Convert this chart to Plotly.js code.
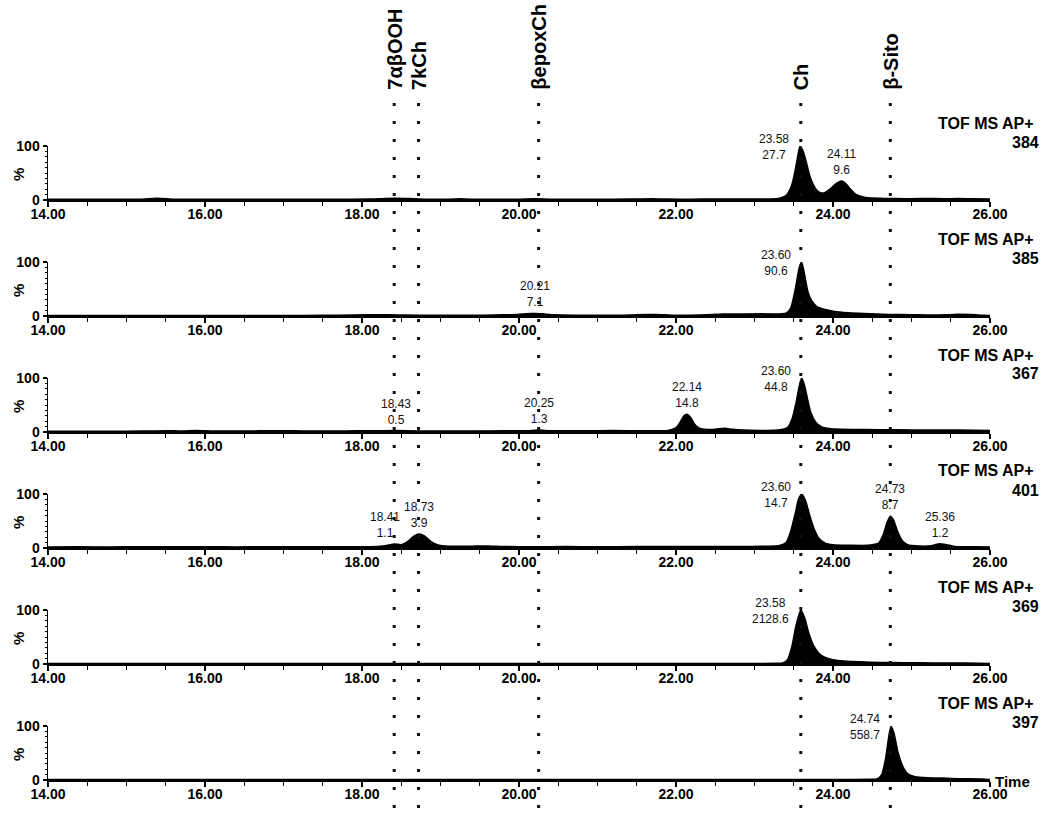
<!DOCTYPE html>
<html>
<head>
<meta charset="utf-8">
<script src="https://cdn.plot.ly/plotly-3.0.1.min.js"></script>
<style>html,body{margin:0;padding:0;background:#fff;}#chart{width:1050px;height:816px;}</style>
</head>
<body>
<div id="chart"></div>
<script>
// ---- data (time in min, relative intensity %) ----
const masses = ["384", "385", "367", "401", "369", "397"];

const trace384 = [[14.00,1.2],[14.30,1.3],[14.60,1.2],[14.90,1.4],[15.20,1.6],[15.35,3.0],[15.45,2.8],[15.60,1.6],[15.90,1.3],[16.20,1.4],[16.60,1.3],[17.00,1.4],[17.40,1.3],[17.80,1.6],[18.10,1.8],[18.30,3.0],[18.45,3.2],[18.60,2.6],[18.80,1.6],[19.10,1.5],[19.25,2.5],[19.40,1.6],[19.70,1.5],[20.00,1.6],[20.20,2.2],[20.40,1.6],[20.70,1.5],[21.00,1.6],[21.40,1.7],[21.70,2.5],[21.90,1.7],[22.20,1.6],[22.45,2.0],[22.70,1.7],[23.00,1.8],[23.20,2.0],[23.32,3.5],[23.40,8],[23.46,22],[23.50,42],[23.54,72],[23.58,100],[23.62,90],[23.66,70],[23.70,47],[23.75,28],[23.80,17],[23.85,13],[23.90,14],[23.96,20],[24.02,28],[24.07,33],[24.11,35],[24.16,31],[24.21,22],[24.27,13],[24.33,8],[24.40,5],[24.50,3.5],[24.65,3],[24.80,2.6],[25.00,2.5],[25.20,2.8],[25.40,2.5],[25.60,2.6],[25.80,2.4],[26.00,2.0]];

const trace385 = [[14.00,1.0],[14.50,1.0],[15.00,1.1],[15.50,1.0],[16.00,1.0],[16.50,1.1],[17.00,1.0],[17.50,1.2],[17.90,2.0],[18.20,2.2],[18.45,2.0],[18.70,1.3],[19.00,1.2],[19.40,1.3],[19.70,1.8],[19.90,2.5],[20.05,3.5],[20.15,4.5],[20.21,4.8],[20.30,4.0],[20.45,2.2],[20.70,1.5],[21.00,1.4],[21.30,1.5],[21.50,2.5],[21.75,2.6],[21.95,1.6],[22.30,1.8],[22.60,3.5],[22.90,3.8],[23.10,4.0],[23.30,3.8],[23.40,5],[23.46,14],[23.52,50],[23.57,90],[23.60,100],[23.64,75],[23.68,45],[23.73,28],[23.80,17],[23.90,12],[24.00,9],[24.20,6],[24.40,4.5],[24.70,3.0],[25.00,2.5],[25.30,2.0],[25.55,3.0],[25.75,2.6],[25.90,1.5],[26.00,1.0]];

const trace367 = [[14.00,1.5],[14.40,1.6],[14.80,1.5],[15.20,1.7],[15.50,2.5],[15.70,1.8],[15.90,2.6],[16.10,1.8],[16.50,1.7],[16.90,2.5],[17.10,2.4],[17.40,1.8],[17.80,2.0],[18.10,2.2],[18.43,2.6],[18.70,2.0],[19.00,1.9],[19.40,2.0],[19.80,2.1],[20.10,2.5],[20.25,3.5],[20.40,2.5],[20.80,2.2],[21.20,2.6],[21.60,2.4],[21.90,2.8],[22.00,8],[22.06,20],[22.10,30],[22.14,33],[22.19,26],[22.24,14],[22.30,7],[22.40,4.5],[22.50,5],[22.62,7],[22.72,5],[22.85,3.5],[23.10,3.0],[23.30,3.5],[23.42,8],[23.48,25],[23.53,55],[23.57,85],[23.60,100],[23.64,85],[23.68,58],[23.72,35],[23.78,18],[23.85,10],[23.95,6.5],[24.10,5],[24.40,4.5],[24.80,4],[25.20,3.5],[25.60,3.5],[26.00,3.0]];

const trace401 = [[14.00,2.0],[14.40,2.1],[14.80,2.0],[15.20,2.2],[15.60,2.1],[16.00,2.2],[16.40,2.0],[16.80,2.3],[17.20,2.2],[17.60,2.4],[18.00,2.5],[18.20,2.8],[18.33,5],[18.41,7.5],[18.50,6],[18.58,12],[18.66,22],[18.73,26],[18.80,22],[18.88,12],[18.98,5],[19.10,3.2],[19.40,3.4],[19.60,3.6],[19.80,2.6],[20.20,2.5],[20.60,2.6],[21.00,2.5],[21.50,2.6],[22.00,2.7],[22.30,3.0],[22.60,2.8],[23.00,3.0],[23.30,4],[23.40,10],[23.46,30],[23.52,65],[23.56,90],[23.60,100],[23.65,88],[23.70,62],[23.76,35],[23.82,18],[23.90,9],[24.00,6],[24.20,5],[24.45,5],[24.58,9],[24.64,25],[24.69,48],[24.73,59],[24.77,52],[24.82,32],[24.88,14],[24.95,6],[25.10,3.5],[25.25,4],[25.36,8],[25.45,6],[25.55,3],[25.80,2.5],[26.00,2.0]];

const trace369 = [[14.00,1.0],[15.00,1.0],[16.00,1.0],[17.00,1.0],[18.00,1.0],[19.00,1.0],[20.00,1.0],[21.00,1.0],[22.00,1.0],[23.00,1.1],[23.30,1.3],[23.36,2],[23.42,8],[23.48,35],[23.53,72],[23.59,100],[23.64,85],[23.69,58],[23.75,35],[23.82,20],[23.90,12],[24.00,8],[24.15,5.5],[24.35,4],[24.60,3],[24.90,2.5],[25.30,2.0],[25.70,1.8],[26.00,1.0]];

const trace397 = [[14.00,1.0],[15.00,1.0],[16.00,1.0],[17.00,1.0],[18.00,1.0],[19.00,1.0],[20.00,1.0],[21.00,1.0],[22.00,1.0],[23.00,1.0],[24.00,1.0],[24.50,1.2],[24.56,2],[24.62,10],[24.67,40],[24.71,80],[24.74,100],[24.78,85],[24.83,50],[24.89,25],[24.95,12],[25.05,6],[25.20,4],[25.40,3.5],[25.60,2.5],[25.90,2.0],[26.00,1.0]];

const traces = [trace384, trace385, trace367, trace401, trace369, trace397];

// peak labels: [retention time, area]
const labels384 = [["23.58","27.7"],["24.11","9.6"]];
const labels385 = [["20.21","7.1"],["23.60","90.6"]];
const labels367 = [["18.43","0.5"],["20.25","1.3"],["22.14","14.8"],["23.60","44.8"]];
const labels401 = [["18.41","1.1"],["18.73","3.9"],["23.60","14.7"],["24.73","8.7"],["25.36","1.2"]];
const labels369 = [["23.58","2128.6"]];
const labels397 = [["24.74","558.7"]];
const peakLabels = [labels384, labels385, labels367, labels401, labels369, labels397];

// marker compounds (dotted lines)
const compounds = ["7\u03b1\u03b2OOH", "7kCh", "\u03b2epoxCh", "Ch", "\u03b2-Sito"];
const compoundTimes = [18.41, 18.72, 20.25, 23.59, 24.73];

// ---- layout ----
const W = 1050, H = 816;
const FONT = "Liberation Sans, Arial, sans-serif";
const xDom = [48 / W, 990 / W];
const data = [];
const layout = {
  width: W, height: H,
  margin: {l: 0, r: 0, t: 0, b: 0},
  paper_bgcolor: "#fff", plot_bgcolor: "#fff",
  showlegend: false,
  font: {family: FONT, color: "#000"},
  annotations: [], shapes: []
};

function py(px) { return 1 - px / H; }

traces.forEach((pts, k) => {
  const sfx = k === 0 ? "" : String(k + 1);
  const bottom = 200 + 116 * k, top = bottom - 54;
  layout["xaxis" + sfx] = {
    domain: xDom, range: [14, 26], anchor: "y" + sfx,
    showline: true, linecolor: "#000", linewidth: 1.5,
    ticks: "outside", ticklen: 5, tickwidth: 1.2, tickcolor: "#000",
    tick0: 14, dtick: 2, tickformat: ".2f", ticklabelstandoff: -4,
    tickfont: {family: FONT, size: 14, weight: 700, color: "#000"},
    minor: {dtick: 0.5, ticks: "outside", ticklen: 4, tickwidth: 1, tickcolor: "#000", showgrid: false},
    showgrid: false, zeroline: false, fixedrange: true
  };
  layout["yaxis" + sfx] = {
    domain: [py(bottom), py(top)], range: [0, 100], anchor: "x" + sfx,
    showline: true, linecolor: "#000", linewidth: 1.5,
    ticks: "outside", ticklen: 4, tickwidth: 1.2, tickcolor: "#000",
    tick0: 0, dtick: 100,
    tickfont: {family: FONT, size: 14, weight: 700, color: "#000"},
    minor: {dtick: 10, ticks: "outside", ticklen: 2, tickwidth: 1, tickcolor: "#000", showgrid: false},
    showgrid: false, zeroline: false, fixedrange: true
  };
  data.push({
    type: "scatter", mode: "lines",
    x: pts.map(p => p[0]), y: pts.map(p => p[1]),
    xaxis: "x" + sfx, yaxis: "y" + sfx,
    line: {color: "#000", width: 1.5, shape: "spline", smoothing: 0.6},
    fill: "tozeroy", fillcolor: "#000", hoverinfo: "skip"
  });
  // right-side labels
  layout.annotations.push({
    xref: "paper", yref: "paper", x: 1036 / W, y: py(top - 23), xanchor: "right", yanchor: "middle",
    text: "TOF MS AP+", showarrow: false, font: {family: FONT, size: 16, weight: 700, color: "#000"}
  });
  layout.annotations.push({
    xref: "paper", yref: "paper", x: 1041 / W, y: py(top - 4), xanchor: "right", yanchor: "middle",
    text: masses[k], showarrow: false, font: {family: FONT, size: 16, weight: 700, color: "#000"}
  });
  // % label
  layout.annotations.push({
    xref: "paper", yref: "paper", x: 18 / W, y: py((top + bottom) / 2 + 2), xanchor: "center", yanchor: "middle",
    text: "%", textangle: -90, showarrow: false, font: {family: FONT, size: 15, weight: 700, color: "#000"}
  });
  // peak labels
  const labs = peakLabels[k];
  labs.forEach((lab, j) => {
    const rt = parseFloat(lab[0]);
    let best = 0;
    pts.forEach(p => { if (Math.abs(p[0] - rt) <= 0.05 && p[1] > best) best = p[1]; });
    const next = labs[j + 1];
    const crowded = next && (parseFloat(next[0]) - rt) < 0.4;
    if (best >= 99) {
      layout.annotations.push({
        xref: "x" + sfx, yref: "y" + sfx, x: rt, y: best, xanchor: "right", yanchor: "middle",
        xshift: -9, yshift: -1, text: lab[0] + "<br>" + lab[1], showarrow: false, align: "center",
        font: {family: FONT, size: 12, color: "#111"}
      });
    } else {
      layout.annotations.push({
        xref: "x" + sfx, yref: "y" + sfx, x: rt, y: best, xanchor: "center", yanchor: "bottom",
        xshift: crowded ? -9 : 0, yshift: 2, text: lab[0] + "<br>" + lab[1], showarrow: false, align: "center",
        font: {family: FONT, size: 12, color: "#111"}
      });
    }
  });
});

// Time label on last panel
layout.annotations.push({
  xref: "paper", yref: "paper", x: 993 / W, y: py(781), xanchor: "left", yanchor: "middle",
  text: "Time", showarrow: false, font: {family: FONT, size: 15, weight: 700, color: "#000"}
});

// compound dotted lines + rotated names
compounds.forEach((name, i) => {
  layout.shapes.push({
    type: "line", xref: "x", yref: "paper",
    x0: compoundTimes[i], x1: compoundTimes[i], y0: py(808), y1: py(98),
    line: {color: "#111", width: 3, dash: "3px,15px"}, layer: "above"
  });
  layout.annotations.push({
    xref: "x", yref: "paper", x: compoundTimes[i], y: py(92), xanchor: "center", yanchor: "bottom",
    text: name, textangle: -90, showarrow: false, font: {family: FONT, size: 20, weight: 700, color: "#000"}
  });
});

Plotly.newPlot("chart", data, layout, {displayModeBar: false, staticPlot: true});
</script>
</body>
</html>
